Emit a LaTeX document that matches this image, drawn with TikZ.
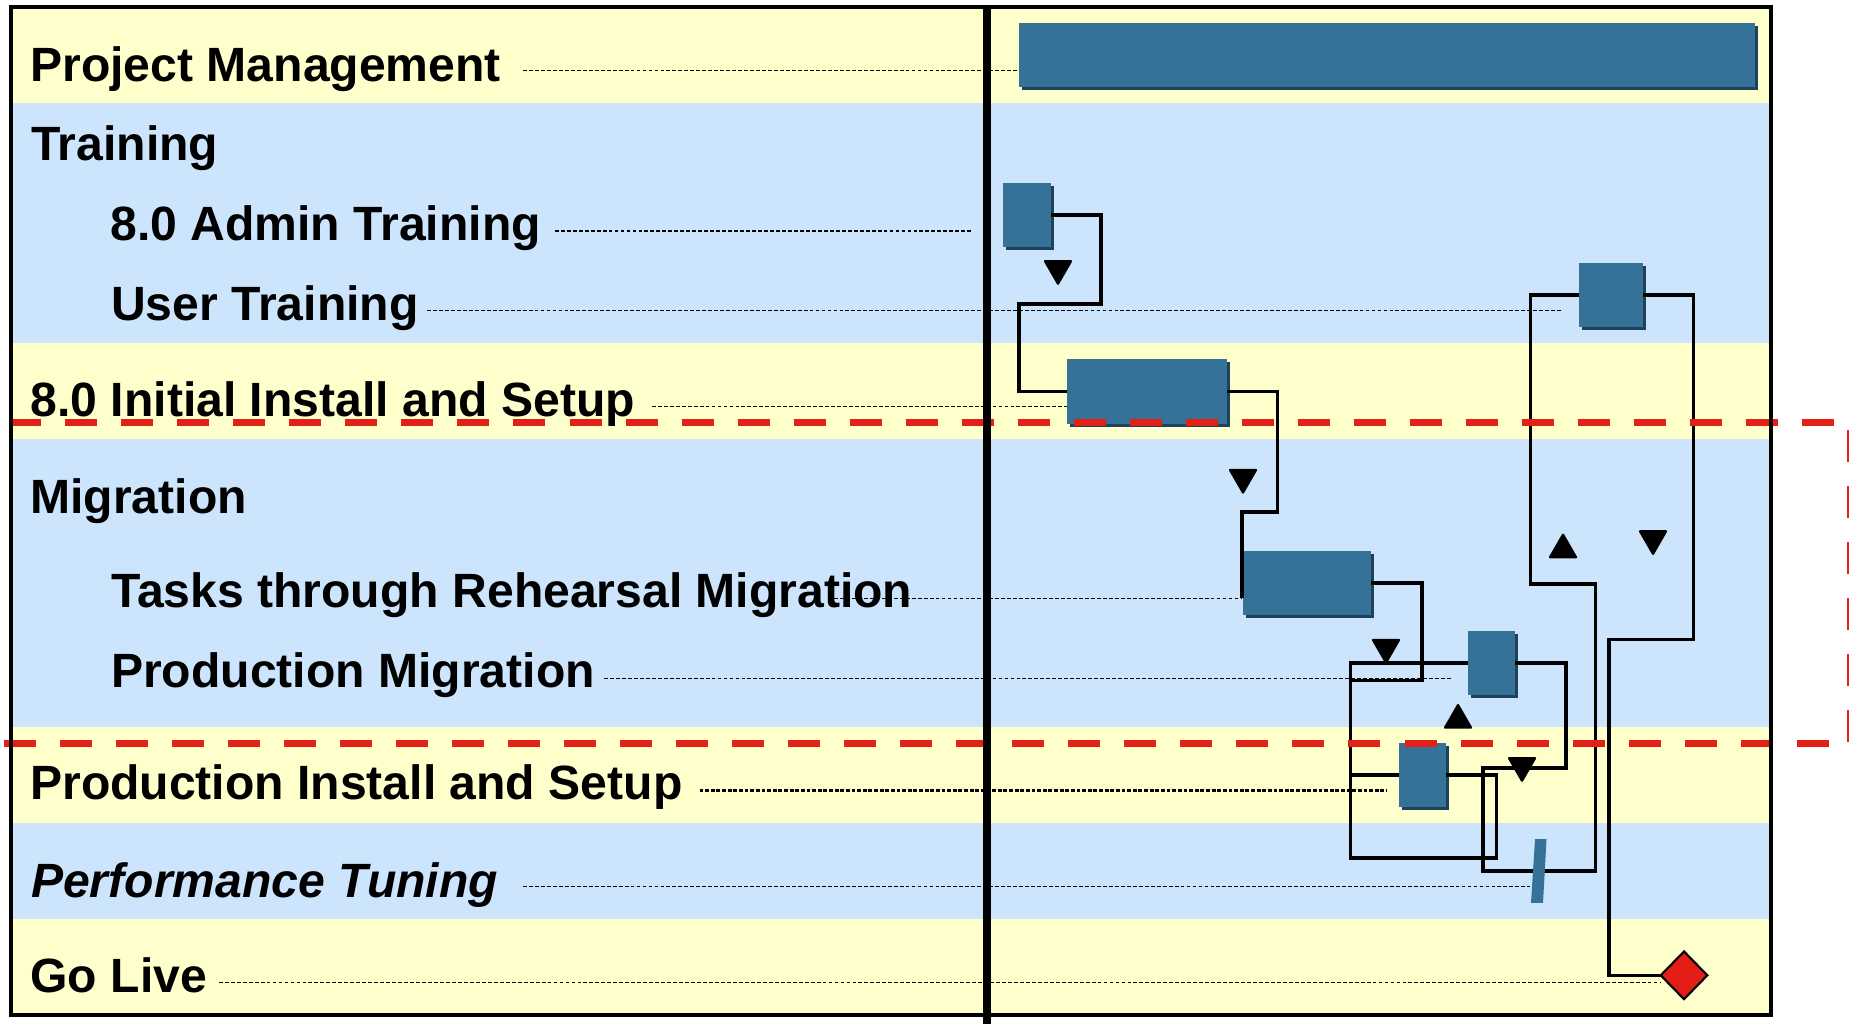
\documentclass[tikz,border=0pt]{standalone}
\usepackage{fontspec}
\setmainfont{Liberation Sans}
\usetikzlibrary{shapes.geometric,fit,shadows}
\definecolor{bandyellow}{RGB}{255,255,204}
\definecolor{bandblue}{RGB}{204,229,252}
\definecolor{barblue}{RGB}{54,113,152}
\definecolor{barshade}{RGB}{30,66,92}
\definecolor{dashred}{RGB}{227,32,24}
\definecolor{msred}{RGB}{227,30,22}
\begin{document}
\begin{tikzpicture}[x=0.01cm,y=-0.01cm,
  gbar/.style={fill=barblue, draw=none, inner sep=0pt, outer sep=0pt,
    drop shadow={shadow xshift=0.03cm, shadow yshift=-0.03cm, fill=barshade, opacity=1}},
  txt/.style={anchor=base west, inner sep=0pt, font=\fontsize{13.68pt}{16pt}\selectfont\bfseries},
  leader/.style={line width=0.32pt, dash pattern=on 1.1pt off 0.6pt},
  leaderbold/.style={line width=0.7pt, dash pattern=on 1.1pt off 0.5pt},
  conn/.style={line width=1pt, draw=black},
  tri/.style={regular polygon, regular polygon sides=3, fill=black, draw=none,
    inner sep=0pt, outer sep=0pt, minimum size=0.345cm, rounded corners=0.6pt},
  tridown/.style={tri, shape border rotate=180},
  reddash/.style={draw=dashred, line width=2.08pt, dash pattern=on 9.1pt off 6.83pt},
]
\clip (0,0) rectangle (1849,1024);
% bands
\fill[bandyellow] (11,6.7) rectangle (1771,102.7);
\fill[bandblue]   (11,102.7) rectangle (1771,342.7);
\fill[bandyellow] (11,342.7) rectangle (1771,438.8);
\fill[bandblue]   (11,438.8) rectangle (1771,727);
\fill[bandyellow] (11,727) rectangle (1771,822.8);
\fill[bandblue]   (11,822.8) rectangle (1771,918.7);
\fill[bandyellow] (11,918.7) rectangle (1771,1015);

% leader lines
\draw[leader] (523,70.3) -- (1018.8,70.3);
\draw[leader] (554.8,231) -- (970.7,231);
\draw[leader] (427,310.3) -- (1561,310.3);
\draw[leader] (651.8,406.3) -- (1067,406.3);
\draw[leader] (828,598.2) -- (1242,598.2);
\draw[leader] (604,678.7) -- (1451,678.7);
\draw[leaderbold] (699.6,790.5) -- (1386.3,790.5);
\draw[leader] (523,886.5) -- (1530.4,886.5);
\draw[leader] (218.8,982.4) -- (1660.7,982.4);

% bars
\node[gbar, fit={(1018.8,22.7) (1755,87.3)}] (pm) {};
\node[gbar, fit={(1003.3,183) (1051,247)}] (adm) {};
\node[gbar, fit={(1579,263) (1643,327)}] (user) {};
\node[gbar, fit={(1067,359) (1227,424)}] (init) {};
\node[gbar, fit={(1243.3,550.9) (1371.4,615)}] (tasks) {};
\node[gbar, fit={(1467.8,630.9) (1515,695)}] (pmig) {};
\node[gbar, fit={(1398.5,743.2) (1446.2,806.8)}] (pinst) {};
\node[diamond, fill=msred, draw=black, line width=0.6pt, inner sep=0pt, outer sep=0pt,
  minimum width=0.466cm, minimum height=0.477cm] (golive) at (1684,975.3) {};

% connectors
\draw[conn] (adm.east) -| (1100.8,304) -- (1018.8,304) |- (init.west);
\draw[conn] (init.east) -| (1277.7,511.9) -- (1242.2,511.9) -- (1242.2,598.2);
\draw[conn] (tasks.east) -| (1421.8,680.6) -- (1350.3,680.6) |- (pinst.west);
\draw[conn] (pinst.east) -| (1496.6,857.8) -- (1350.3,857.8) |- (pmig.west);
\draw[conn] (pmig.east) -| (1565.9,768.2) -- (1482.8,768.2) |- (1595.3,871)
  -- (1595.3,583.9) -- (1530.4,583.9) |- (user.west);
\draw[conn] (user.east) -| (1693.4,639.3) -- (1609,639.3) |- (golive.west);

% performance tuning bar
\fill[barblue] (1535,839.1) -- (1546.5,839.1) -- (1543,902.8) -- (1531,902.8) -- cycle;

% triangles
\node[tridown] (t1) at (1058,268.7) {};
\node[tridown] (t2) at (1243,477.5) {};
\node[tridown] (t3) at (1386,647.5) {};
\node[tri]     (t4) at (1458,720.1) {};
\node[tridown] (t5) at (1522,765.7) {};
\node[tri]     (t6) at (1563,549.7) {};
\node[tridown] (t7) at (1653,538.8) {};

% labels
\node[txt] (lpm)   at (29.7,81)    {Project Management};
\node[txt] (ltr)   at (30.5,160.7) {Training};
\node[txt] (ladm)  at (109.7,240.7) {8.0 Admin Training};
\node[txt] (lusr)  at (110.4,320.7) {User Training};
\node[txt] (linit) at (30,416.5)   {8.0 Initial Install and Setup};
\node[txt] (lmig)  at (29.6,513.5) {Migration};
\node[txt] (ltask) at (110.6,607.8) {Tasks through Rehearsal Migration};
\node[txt] (lpmig) at (110.4,687.4) {Production Migration};
\node[txt] (lpins) at (29.5,799.3) {Production Install and Setup};
\node[txt, font=\fontsize{13.68pt}{16pt}\selectfont\bfseries\itshape] (lperf) at (30.4,897.6) {Performance Tuning};
\node[txt] (lgo)   at (29.8,992)   {Go Live};

% red dashed outline
\draw[reddash] (9.3,422.8) -- (1851,422.8) -- (1851,743.5) -- (0,743.5);

% frame and divider
\draw[line width=1.14pt] (11,6.7) rectangle (1771,1015);
\draw[line width=2.08pt] (987,5) -- (987,1024);
\end{tikzpicture}
\end{document}
